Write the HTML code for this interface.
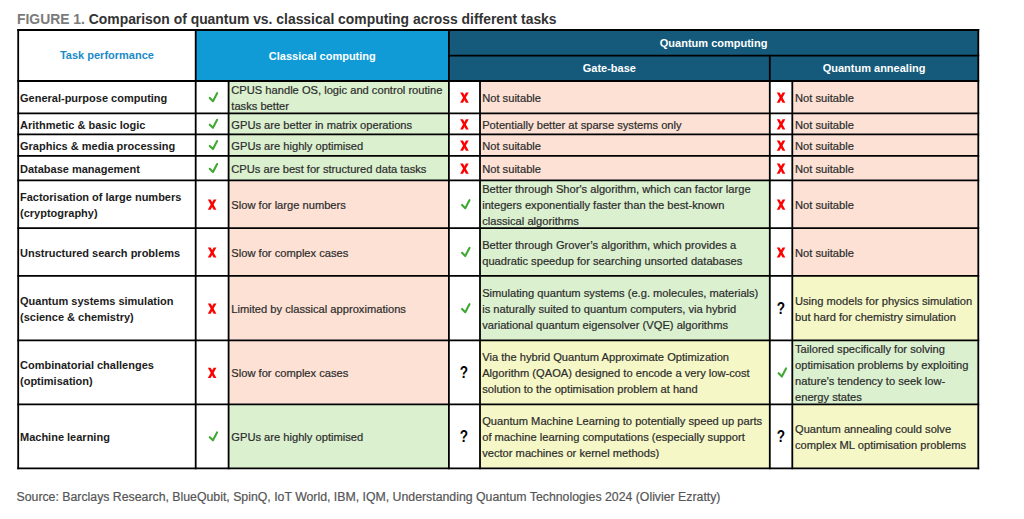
<!DOCTYPE html>
<html><head><meta charset="utf-8"><style>
html,body{margin:0;padding:0;background:#fff;width:1024px;height:519px;overflow:hidden;position:relative;font-family:"Liberation Sans", sans-serif;}
.t{position:absolute;white-space:nowrap;line-height:16px;}
.r{-webkit-text-stroke:0.2px currentColor;}
</style></head><body>
<svg width="1024" height="519" viewBox="0 0 1024 519" style="position:absolute;left:0;top:0"><rect x="18.20" y="30.00" width="177.50" height="51.00" fill="#fff"/><rect x="195.70" y="30.00" width="253.20" height="51.00" fill="#119bd6"/><rect x="448.90" y="30.00" width="529.40" height="51.00" fill="#155a7b"/><rect x="18.20" y="81.00" width="177.50" height="32.30" fill="#fff"/><rect x="195.70" y="81.00" width="32.90" height="32.30" fill="#fff"/><rect x="228.60" y="81.00" width="220.30" height="32.30" fill="#daf0cf"/><path d="M209.75 97.95 L212.95 101.15 L217.15 93.15" fill="none" stroke="#40a833" stroke-width="2.1" stroke-linecap="round" stroke-linejoin="round"/><rect x="448.90" y="81.00" width="31.10" height="32.30" fill="#fff"/><rect x="480.00" y="81.00" width="289.80" height="32.30" fill="#fce1d4"/><polygon points="460.15,92.55 462.95,92.55 468.75,102.75 465.95,102.75" fill="#ff0000"/><polygon points="468.75,92.55 465.95,92.55 460.15,102.75 462.95,102.75" fill="#ff0000"/><rect x="769.80" y="81.00" width="22.50" height="32.30" fill="#fff"/><rect x="792.30" y="81.00" width="186.00" height="32.30" fill="#fce1d4"/><polygon points="776.75,92.55 779.55,92.55 785.35,102.75 782.55,102.75" fill="#ff0000"/><polygon points="785.35,92.55 782.55,92.55 776.75,102.75 779.55,102.75" fill="#ff0000"/><rect x="18.20" y="113.30" width="177.50" height="21.10" fill="#fff"/><rect x="195.70" y="113.30" width="32.90" height="21.10" fill="#fff"/><rect x="228.60" y="113.30" width="220.30" height="21.10" fill="#daf0cf"/><path d="M209.75 124.65 L212.95 127.85 L217.15 119.85" fill="none" stroke="#40a833" stroke-width="2.1" stroke-linecap="round" stroke-linejoin="round"/><rect x="448.90" y="113.30" width="31.10" height="21.10" fill="#fff"/><rect x="480.00" y="113.30" width="289.80" height="21.10" fill="#fce1d4"/><polygon points="460.15,119.25 462.95,119.25 468.75,129.45 465.95,129.45" fill="#ff0000"/><polygon points="468.75,119.25 465.95,119.25 460.15,129.45 462.95,129.45" fill="#ff0000"/><rect x="769.80" y="113.30" width="22.50" height="21.10" fill="#fff"/><rect x="792.30" y="113.30" width="186.00" height="21.10" fill="#fce1d4"/><polygon points="776.75,119.25 779.55,119.25 785.35,129.45 782.55,129.45" fill="#ff0000"/><polygon points="785.35,119.25 782.55,119.25 776.75,129.45 779.55,129.45" fill="#ff0000"/><rect x="18.20" y="134.40" width="177.50" height="21.40" fill="#fff"/><rect x="195.70" y="134.40" width="32.90" height="21.40" fill="#fff"/><rect x="228.60" y="134.40" width="220.30" height="21.40" fill="#daf0cf"/><path d="M209.75 145.90 L212.95 149.10 L217.15 141.10" fill="none" stroke="#40a833" stroke-width="2.1" stroke-linecap="round" stroke-linejoin="round"/><rect x="448.90" y="134.40" width="31.10" height="21.40" fill="#fff"/><rect x="480.00" y="134.40" width="289.80" height="21.40" fill="#fce1d4"/><polygon points="460.15,140.50 462.95,140.50 468.75,150.70 465.95,150.70" fill="#ff0000"/><polygon points="468.75,140.50 465.95,140.50 460.15,150.70 462.95,150.70" fill="#ff0000"/><rect x="769.80" y="134.40" width="22.50" height="21.40" fill="#fff"/><rect x="792.30" y="134.40" width="186.00" height="21.40" fill="#fce1d4"/><polygon points="776.75,140.50 779.55,140.50 785.35,150.70 782.55,150.70" fill="#ff0000"/><polygon points="785.35,140.50 782.55,140.50 776.75,150.70 779.55,150.70" fill="#ff0000"/><rect x="18.20" y="155.80" width="177.50" height="24.50" fill="#fff"/><rect x="195.70" y="155.80" width="32.90" height="24.50" fill="#fff"/><rect x="228.60" y="155.80" width="220.30" height="24.50" fill="#daf0cf"/><path d="M209.75 168.85 L212.95 172.05 L217.15 164.05" fill="none" stroke="#40a833" stroke-width="2.1" stroke-linecap="round" stroke-linejoin="round"/><rect x="448.90" y="155.80" width="31.10" height="24.50" fill="#fff"/><rect x="480.00" y="155.80" width="289.80" height="24.50" fill="#fce1d4"/><polygon points="460.15,163.45 462.95,163.45 468.75,173.65 465.95,173.65" fill="#ff0000"/><polygon points="468.75,163.45 465.95,163.45 460.15,173.65 462.95,173.65" fill="#ff0000"/><rect x="769.80" y="155.80" width="22.50" height="24.50" fill="#fff"/><rect x="792.30" y="155.80" width="186.00" height="24.50" fill="#fce1d4"/><polygon points="776.75,163.45 779.55,163.45 785.35,173.65 782.55,173.65" fill="#ff0000"/><polygon points="785.35,163.45 782.55,163.45 776.75,173.65 779.55,173.65" fill="#ff0000"/><rect x="18.20" y="180.30" width="177.50" height="47.75" fill="#fff"/><rect x="195.70" y="180.30" width="32.90" height="47.75" fill="#fff"/><rect x="228.60" y="180.30" width="220.30" height="47.75" fill="#fce1d4"/><polygon points="207.85,199.58 210.65,199.58 216.45,209.78 213.65,209.78" fill="#ff0000"/><polygon points="216.45,199.58 213.65,199.58 207.85,209.78 210.65,209.78" fill="#ff0000"/><rect x="448.90" y="180.30" width="31.10" height="47.75" fill="#fff"/><rect x="480.00" y="180.30" width="289.80" height="47.75" fill="#daf0cf"/><path d="M462.05 204.98 L465.25 208.18 L469.45 200.18" fill="none" stroke="#40a833" stroke-width="2.1" stroke-linecap="round" stroke-linejoin="round"/><rect x="769.80" y="180.30" width="22.50" height="47.75" fill="#fff"/><rect x="792.30" y="180.30" width="186.00" height="47.75" fill="#fce1d4"/><polygon points="776.75,199.58 779.55,199.58 785.35,209.78 782.55,209.78" fill="#ff0000"/><polygon points="785.35,199.58 782.55,199.58 776.75,209.78 779.55,209.78" fill="#ff0000"/><rect x="18.20" y="228.05" width="177.50" height="47.85" fill="#fff"/><rect x="195.70" y="228.05" width="32.90" height="47.85" fill="#fff"/><rect x="228.60" y="228.05" width="220.30" height="47.85" fill="#fce1d4"/><polygon points="207.85,247.38 210.65,247.38 216.45,257.57 213.65,257.57" fill="#ff0000"/><polygon points="216.45,247.38 213.65,247.38 207.85,257.57 210.65,257.57" fill="#ff0000"/><rect x="448.90" y="228.05" width="31.10" height="47.85" fill="#fff"/><rect x="480.00" y="228.05" width="289.80" height="47.85" fill="#daf0cf"/><path d="M462.05 252.78 L465.25 255.97 L469.45 247.97" fill="none" stroke="#40a833" stroke-width="2.1" stroke-linecap="round" stroke-linejoin="round"/><rect x="769.80" y="228.05" width="22.50" height="47.85" fill="#fff"/><rect x="792.30" y="228.05" width="186.00" height="47.85" fill="#fce1d4"/><polygon points="776.75,247.38 779.55,247.38 785.35,257.57 782.55,257.57" fill="#ff0000"/><polygon points="785.35,247.38 782.55,247.38 776.75,257.57 779.55,257.57" fill="#ff0000"/><rect x="18.20" y="275.90" width="177.50" height="64.50" fill="#fff"/><rect x="195.70" y="275.90" width="32.90" height="64.50" fill="#fff"/><rect x="228.60" y="275.90" width="220.30" height="64.50" fill="#fce1d4"/><polygon points="207.85,303.55 210.65,303.55 216.45,313.75 213.65,313.75" fill="#ff0000"/><polygon points="216.45,303.55 213.65,303.55 207.85,313.75 210.65,313.75" fill="#ff0000"/><rect x="448.90" y="275.90" width="31.10" height="64.50" fill="#fff"/><rect x="480.00" y="275.90" width="289.80" height="64.50" fill="#daf0cf"/><path d="M462.05 308.95 L465.25 312.15 L469.45 304.15" fill="none" stroke="#40a833" stroke-width="2.1" stroke-linecap="round" stroke-linejoin="round"/><rect x="769.80" y="275.90" width="22.50" height="64.50" fill="#fff"/><rect x="792.30" y="275.90" width="186.00" height="64.50" fill="#f5f7c6"/><rect x="18.20" y="340.40" width="177.50" height="64.00" fill="#fff"/><rect x="195.70" y="340.40" width="32.90" height="64.00" fill="#fff"/><rect x="228.60" y="340.40" width="220.30" height="64.00" fill="#fce1d4"/><polygon points="207.85,367.80 210.65,367.80 216.45,378.00 213.65,378.00" fill="#ff0000"/><polygon points="216.45,367.80 213.65,367.80 207.85,378.00 210.65,378.00" fill="#ff0000"/><rect x="448.90" y="340.40" width="31.10" height="64.00" fill="#fff"/><rect x="480.00" y="340.40" width="289.80" height="64.00" fill="#f5f7c6"/><rect x="769.80" y="340.40" width="22.50" height="64.00" fill="#fff"/><rect x="792.30" y="340.40" width="186.00" height="64.00" fill="#daf0cf"/><path d="M778.65 373.20 L781.85 376.40 L786.05 368.40" fill="none" stroke="#40a833" stroke-width="2.1" stroke-linecap="round" stroke-linejoin="round"/><rect x="18.20" y="404.40" width="177.50" height="63.90" fill="#fff"/><rect x="195.70" y="404.40" width="32.90" height="63.90" fill="#fff"/><rect x="228.60" y="404.40" width="220.30" height="63.90" fill="#daf0cf"/><path d="M209.75 437.15 L212.95 440.35 L217.15 432.35" fill="none" stroke="#40a833" stroke-width="2.1" stroke-linecap="round" stroke-linejoin="round"/><rect x="448.90" y="404.40" width="31.10" height="63.90" fill="#fff"/><rect x="480.00" y="404.40" width="289.80" height="63.90" fill="#f5f7c6"/><rect x="769.80" y="404.40" width="22.50" height="63.90" fill="#fff"/><rect x="792.30" y="404.40" width="186.00" height="63.90" fill="#f5f7c6"/><line x1="17.30" y1="30.00" x2="979.20" y2="30.00" stroke="#000" stroke-width="1.8"/><line x1="448.00" y1="55.60" x2="979.20" y2="55.60" stroke="#000" stroke-width="1.8"/><line x1="17.30" y1="81.00" x2="979.20" y2="81.00" stroke="#000" stroke-width="1.8"/><line x1="17.30" y1="113.30" x2="979.20" y2="113.30" stroke="#000" stroke-width="1.8"/><line x1="17.30" y1="134.40" x2="979.20" y2="134.40" stroke="#000" stroke-width="1.8"/><line x1="17.30" y1="155.80" x2="979.20" y2="155.80" stroke="#000" stroke-width="1.8"/><line x1="17.30" y1="180.30" x2="979.20" y2="180.30" stroke="#000" stroke-width="1.8"/><line x1="17.30" y1="228.05" x2="979.20" y2="228.05" stroke="#000" stroke-width="1.8"/><line x1="17.30" y1="275.90" x2="979.20" y2="275.90" stroke="#000" stroke-width="1.8"/><line x1="17.30" y1="340.40" x2="979.20" y2="340.40" stroke="#000" stroke-width="1.8"/><line x1="17.30" y1="404.40" x2="979.20" y2="404.40" stroke="#000" stroke-width="1.8"/><line x1="17.30" y1="468.30" x2="979.20" y2="468.30" stroke="#000" stroke-width="1.8"/><line x1="18.20" y1="29.10" x2="18.20" y2="469.20" stroke="#000" stroke-width="1.8"/><line x1="195.70" y1="29.10" x2="195.70" y2="469.20" stroke="#000" stroke-width="1.8"/><line x1="448.90" y1="29.10" x2="448.90" y2="469.20" stroke="#000" stroke-width="1.8"/><line x1="978.30" y1="29.10" x2="978.30" y2="469.20" stroke="#000" stroke-width="1.8"/><line x1="769.80" y1="54.70" x2="769.80" y2="469.20" stroke="#000" stroke-width="1.8"/><line x1="228.60" y1="80.10" x2="228.60" y2="469.20" stroke="#000" stroke-width="1.8"/><line x1="480.00" y1="80.10" x2="480.00" y2="469.20" stroke="#000" stroke-width="1.8"/><line x1="792.30" y1="80.10" x2="792.30" y2="469.20" stroke="#000" stroke-width="1.8"/></svg>
<div class="t" style="left:20px;top:89.94px;font-size:11px;color:#1c1c1c;font-weight:bold;">General-purpose computing</div>
<div class="t r" style="left:231.3px;top:81.99px;font-size:11.15px;color:#2c2c2c;">CPUS handle OS, logic and control routine</div>
<div class="t r" style="left:231.3px;top:97.79px;font-size:11.15px;color:#2c2c2c;">tasks better</div>
<div class="t r" style="left:482.2px;top:89.89px;font-size:11.15px;color:#2c2c2c;">Not suitable</div>
<div class="t r" style="left:795px;top:89.89px;font-size:11.15px;color:#2c2c2c;">Not suitable</div>
<div class="t" style="left:20px;top:116.64px;font-size:11px;color:#1c1c1c;font-weight:bold;">Arithmetic &amp; basic logic</div>
<div class="t r" style="left:231.3px;top:116.59px;font-size:11.15px;color:#2c2c2c;">GPUs are better in matrix operations</div>
<div class="t r" style="left:482.2px;top:116.59px;font-size:11.15px;color:#2c2c2c;">Potentially better at sparse systems only</div>
<div class="t r" style="left:795px;top:116.59px;font-size:11.15px;color:#2c2c2c;">Not suitable</div>
<div class="t" style="left:20px;top:137.89px;font-size:11px;color:#1c1c1c;font-weight:bold;">Graphics &amp; media processing</div>
<div class="t r" style="left:231.3px;top:137.84px;font-size:11.15px;color:#2c2c2c;">GPUs are highly optimised</div>
<div class="t r" style="left:482.2px;top:137.84px;font-size:11.15px;color:#2c2c2c;">Not suitable</div>
<div class="t r" style="left:795px;top:137.84px;font-size:11.15px;color:#2c2c2c;">Not suitable</div>
<div class="t" style="left:20px;top:160.84px;font-size:11px;color:#1c1c1c;font-weight:bold;">Database management</div>
<div class="t r" style="left:231.3px;top:160.79px;font-size:11.15px;color:#2c2c2c;">CPUs are best for structured data tasks</div>
<div class="t r" style="left:482.2px;top:160.79px;font-size:11.15px;color:#2c2c2c;">Not suitable</div>
<div class="t r" style="left:795px;top:160.79px;font-size:11.15px;color:#2c2c2c;">Not suitable</div>
<div class="t" style="left:20px;top:189.06px;font-size:11px;color:#1c1c1c;font-weight:bold;">Factorisation of large numbers</div>
<div class="t" style="left:20px;top:204.87px;font-size:11px;color:#1c1c1c;font-weight:bold;">(cryptography)</div>
<div class="t r" style="left:231.3px;top:196.91px;font-size:11.15px;color:#2c2c2c;">Slow for large numbers</div>
<div class="t r" style="left:482.2px;top:181.11px;font-size:11.15px;color:#2c2c2c;">Better through Shor's algorithm, which can factor large</div>
<div class="t r" style="left:482.2px;top:196.91px;font-size:11.15px;color:#2c2c2c;">integers exponentially faster than the best-known</div>
<div class="t r" style="left:482.2px;top:212.72px;font-size:11.15px;color:#2c2c2c;">classical algorithms</div>
<div class="t r" style="left:795px;top:196.91px;font-size:11.15px;color:#2c2c2c;">Not suitable</div>
<div class="t" style="left:20px;top:244.76px;font-size:11px;color:#1c1c1c;font-weight:bold;">Unstructured search problems</div>
<div class="t r" style="left:231.3px;top:244.71px;font-size:11.15px;color:#2c2c2c;">Slow for complex cases</div>
<div class="t r" style="left:482.2px;top:236.81px;font-size:11.15px;color:#2c2c2c;">Better through Grover&#8217;s algorithm, which provides a</div>
<div class="t r" style="left:482.2px;top:252.61px;font-size:11.15px;color:#2c2c2c;">quadratic speedup for searching unsorted databases</div>
<div class="t r" style="left:795px;top:244.71px;font-size:11.15px;color:#2c2c2c;">Not suitable</div>
<div class="t" style="left:20px;top:293.04px;font-size:11px;color:#1c1c1c;font-weight:bold;">Quantum systems simulation</div>
<div class="t" style="left:20px;top:308.84px;font-size:11px;color:#1c1c1c;font-weight:bold;">(science &amp; chemistry)</div>
<div class="t r" style="left:231.3px;top:300.89px;font-size:11.15px;color:#2c2c2c;">Limited by classical approximations</div>
<div class="t r" style="left:482.2px;top:285.09px;font-size:11.15px;color:#2c2c2c;">Simulating quantum systems (e.g. molecules, materials)</div>
<div class="t r" style="left:482.2px;top:300.89px;font-size:11.15px;color:#2c2c2c;">is naturally suited to quantum computers, via hybrid</div>
<div class="t r" style="left:482.2px;top:316.69px;font-size:11.15px;color:#2c2c2c;">variational quantum eigensolver (VQE) algorithms</div>
<div class="t" style="left:771.05px;top:301.15px;width:20px;text-align:center;font-size:16px;font-weight:bold;color:#000;transform:scaleX(0.85)">?</div>
<div class="t r" style="left:795px;top:292.99px;font-size:11.15px;color:#2c2c2c;">Using models for physics simulation</div>
<div class="t r" style="left:795px;top:308.79px;font-size:11.15px;color:#2c2c2c;">but hard for chemistry simulation</div>
<div class="t" style="left:20px;top:357.29px;font-size:11px;color:#1c1c1c;font-weight:bold;">Combinatorial challenges</div>
<div class="t" style="left:20px;top:373.09px;font-size:11px;color:#1c1c1c;font-weight:bold;">(optimisation)</div>
<div class="t r" style="left:231.3px;top:365.14px;font-size:11.15px;color:#2c2c2c;">Slow for complex cases</div>
<div class="t" style="left:454.45px;top:365.40px;width:20px;text-align:center;font-size:16px;font-weight:bold;color:#000;transform:scaleX(0.85)">?</div>
<div class="t r" style="left:482.2px;top:349.34px;font-size:11.15px;color:#2c2c2c;">Via the hybrid Quantum Approximate Optimization</div>
<div class="t r" style="left:482.2px;top:365.14px;font-size:11.15px;color:#2c2c2c;">Algorithm (QAOA) designed to encode a very low-cost</div>
<div class="t r" style="left:482.2px;top:380.94px;font-size:11.15px;color:#2c2c2c;">solution to the optimisation problem at hand</div>
<div class="t r" style="left:795px;top:341.44px;font-size:11.15px;color:#2c2c2c;">Tailored specifically for solving</div>
<div class="t r" style="left:795px;top:357.24px;font-size:11.15px;color:#2c2c2c;">optimisation problems by exploiting</div>
<div class="t r" style="left:795px;top:373.04px;font-size:11.15px;color:#2c2c2c;">nature&#8217;s tendency to seek low-</div>
<div class="t r" style="left:795px;top:388.84px;font-size:11.15px;color:#2c2c2c;">energy states</div>
<div class="t" style="left:20px;top:429.14px;font-size:11px;color:#1c1c1c;font-weight:bold;">Machine learning</div>
<div class="t r" style="left:231.3px;top:429.09px;font-size:11.15px;color:#2c2c2c;">GPUs are highly optimised</div>
<div class="t" style="left:454.45px;top:429.35px;width:20px;text-align:center;font-size:16px;font-weight:bold;color:#000;transform:scaleX(0.85)">?</div>
<div class="t r" style="left:482.2px;top:413.29px;font-size:11.15px;color:#2c2c2c;">Quantum Machine Learning to potentially speed up parts</div>
<div class="t r" style="left:482.2px;top:429.09px;font-size:11.15px;color:#2c2c2c;">of machine learning computations (especially support</div>
<div class="t r" style="left:482.2px;top:444.89px;font-size:11.15px;color:#2c2c2c;">vector machines or kernel methods)</div>
<div class="t" style="left:771.05px;top:429.35px;width:20px;text-align:center;font-size:16px;font-weight:bold;color:#000;transform:scaleX(0.85)">?</div>
<div class="t r" style="left:795px;top:421.19px;font-size:11.15px;color:#2c2c2c;">Quantum annealing could solve</div>
<div class="t r" style="left:795px;top:436.99px;font-size:11.15px;color:#2c2c2c;">complex ML optimisation problems</div>
<div class="t" style="left:18.20px;top:47.49px;width:177.50px;text-align:center;font-size:11px;font-weight:bold;color:#1a8bc9">Task performance</div>
<div class="t" style="left:195.70px;top:47.99px;width:253.20px;text-align:center;font-size:11px;font-weight:bold;color:#ffffff">Classical computing</div>
<div class="t" style="left:448.90px;top:35.19px;width:529.40px;text-align:center;font-size:11px;font-weight:bold;color:#ffffff">Quantum computing</div>
<div class="t" style="left:448.90px;top:59.99px;width:320.90px;text-align:center;font-size:11px;font-weight:bold;color:#ffffff">Gate-base</div>
<div class="t" style="left:769.80px;top:59.99px;width:208.50px;text-align:center;font-size:11px;font-weight:bold;color:#ffffff">Quantum annealing</div>
<div class="t" style="left:17px;top:10.9px;font-size:13.9px;font-weight:bold;color:#333"><span style="color:#7b7b7b">FIGURE 1.</span> Comparison of quantum vs. classical computing across different tasks</div>
<div class="t r" style="left:16.5px;top:488.65px;font-size:12.3px;color:#555">Source: Barclays Research, BlueQubit, SpinQ, IoT World, IBM, IQM, Understanding Quantum Technologies 2024 (Olivier Ezratty)</div>
</body></html>
